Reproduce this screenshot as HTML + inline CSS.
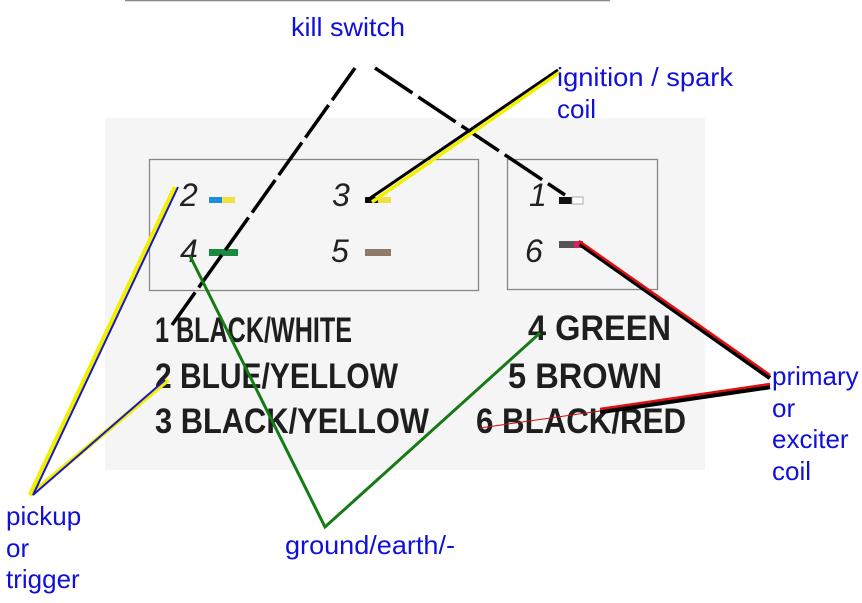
<!DOCTYPE html>
<html><head><style>
body{margin:0;background:#fff;}
svg{display:block;}
.b{font-family:"Liberation Sans",sans-serif;font-size:26px;fill:#1010d8;}
.n{font-family:"Liberation Sans",sans-serif;font-size:32px;font-style:italic;fill:#222;}
.t{font-family:"Liberation Sans",sans-serif;font-size:35px;font-weight:bold;fill:#1e1e1e;}
</style></head><body>
<svg width="862" height="603" viewBox="0 0 862 603">
<line x1="125" y1="0.5" x2="610" y2="0.5" stroke="#888" stroke-width="1.5"/>
<rect x="105" y="118" width="600" height="352" fill="#f5f5f5"/>
<rect x="149.5" y="159.5" width="329" height="131" fill="none" stroke="#888" stroke-width="1.3"/>
<rect x="507.5" y="159.5" width="150" height="130" fill="none" stroke="#888" stroke-width="1.3"/>
<text class="n" x="180" y="206">2</text>
<rect x="209" y="197" width="13" height="6" fill="#1a8fd8"/><rect x="222" y="197" width="13" height="6" fill="#f0e040"/>
<text class="n" x="332" y="206">3</text>
<rect x="365" y="197" width="13" height="6" fill="#111"/><rect x="378" y="197" width="13" height="6" fill="#f0e040"/>
<text class="n" x="180" y="262">4</text>
<rect x="209" y="249" width="29" height="7" fill="#1a8a40"/>
<text class="n" x="331" y="262">5</text>
<rect x="365" y="249" width="26" height="7" fill="#8d7a68"/>
<text class="n" x="529" y="206">1</text>
<rect x="559" y="197" width="13" height="7" fill="#111"/><rect x="572" y="197" width="11" height="7" fill="#fff" stroke="#999" stroke-width="0.8"/>
<text class="n" x="525" y="262">6</text>
<rect x="559" y="241" width="15" height="7" fill="#555"/><rect x="574" y="241" width="9" height="7" fill="#d8245a"/>
<text class="t" x="155" y="342" textLength="197" lengthAdjust="spacingAndGlyphs">1 BLACK/WHITE</text>
<text class="t" x="155" y="388" textLength="243" lengthAdjust="spacingAndGlyphs">2 BLUE/YELLOW</text>
<text class="t" x="155" y="433" textLength="274" lengthAdjust="spacingAndGlyphs">3 BLACK/YELLOW</text>
<text class="t" x="528" y="340" textLength="143" lengthAdjust="spacingAndGlyphs">4 GREEN</text>
<text class="t" x="508" y="388" textLength="154" lengthAdjust="spacingAndGlyphs">5 BROWN</text>
<text class="t" x="476" y="433" textLength="210" lengthAdjust="spacingAndGlyphs">6 BLACK/RED</text>
<polyline points="172,325 355,68" fill="none" stroke="#000" stroke-width="3.5" stroke-dasharray="40,6"/>
<polyline points="375,68 565,195" fill="none" stroke="#000" stroke-width="3.5" stroke-dasharray="45,7"/>
<line x1="558" y1="70" x2="366" y2="201" stroke="#000" stroke-width="3"/>
<line x1="560" y1="72" x2="372" y2="202" stroke="#f0f000" stroke-width="3.5"/>
<polyline points="190,256 325,527 540,333" fill="none" stroke="#167a16" stroke-width="3"/>
<polyline points="175,187 30,495 168,380" fill="none" stroke="#f0f000" stroke-width="4.5"/>
<polyline points="178,187 33,495 165,380" fill="none" stroke="#1818c8" stroke-width="2"/>
<line x1="580" y1="244" x2="770" y2="378" stroke="#000" stroke-width="4.5"/>
<line x1="579" y1="241" x2="770" y2="375" stroke="#e01010" stroke-width="2.5"/>
<line x1="600" y1="412" x2="770" y2="387" stroke="#000" stroke-width="4.5"/>
<line x1="600" y1="409" x2="770" y2="384" stroke="#e01010" stroke-width="2.5"/>
<line x1="480" y1="428" x2="600" y2="411" stroke="#d01010" stroke-width="1"/>
<text class="b" x="291" y="36" textLength="114" lengthAdjust="spacingAndGlyphs">kill switch</text>
<text class="b" x="557" y="86" textLength="176" lengthAdjust="spacingAndGlyphs">ignition / spark</text>
<text class="b" x="557" y="118">coil</text>
<text class="b" x="772" y="385">primary</text>
<text class="b" x="772" y="417">or</text>
<text class="b" x="772" y="448">exciter</text>
<text class="b" x="772" y="480">coil</text>
<text class="b" x="6" y="525">pickup</text>
<text class="b" x="6" y="557">or</text>
<text class="b" x="6" y="588">trigger</text>
<text class="b" x="285" y="554" textLength="170" lengthAdjust="spacingAndGlyphs">ground/earth/-</text>
</svg>
</body></html>
